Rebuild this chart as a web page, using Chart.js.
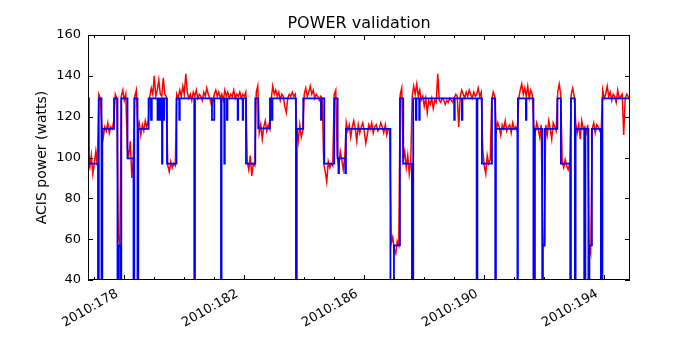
<!DOCTYPE html>
<html>
<head>
<meta charset="utf-8">
<script src="https://cdn.jsdelivr.net/npm/chart.js@4"></script>
<style>
  body { margin: 0; background: #fff; }
  #wrap { width: 700px; height: 350px; }
</style>
</head>
<body>
<div id="wrap"><canvas id="powerChart" width="700" height="350"></canvas></div>
<script>
// x axis: day of year 2010
const tickDays = [177, 178, 179, 180, 181, 182, 183, 184, 185, 186, 187, 188, 189, 190, 191, 192, 193, 194];
const labelDays = [178, 182, 186, 190, 194];
const yTicks = [40, 60, 80, 100, 120, 140, 160];

// model power (blue): day where the level changes, and the new level
const modelDays = [176.8, 176.82, 177.123, 177.15, 177.24, 177.267, 177.657, 177.773, 177.807, 177.873,
  177.9, 178.107, 178.307, 178.333, 178.44, 178.467, 178.81, 178.89, 178.917, 179.107,
  179.123, 179.183, 179.2, 179.257, 179.273, 179.313, 179.33, 179.423, 179.74, 179.833,
  179.85, 180.333, 180.357, 180.923, 181.0, 181.223, 181.243, 181.333, 181.35, 181.423,
  181.44, 181.78, 181.797, 181.947, 181.963, 182.057, 182.367, 182.467, 182.857, 182.923,
  182.94, 183.723, 183.75, 183.967, 184.557, 184.573, 184.667, 185.0, 185.113, 185.14,
  185.157, 185.367, 185.39, 186.873, 186.99, 187.19, 187.3, 187.59, 187.633, 187.723,
  187.74, 187.833, 187.85, 189.0, 189.017, 189.257, 189.273, 189.747, 189.773, 189.923,
  190.257, 190.367, 190.39, 191.107, 191.123, 191.39, 191.407, 191.64, 191.69, 191.933,
  191.957, 192.017, 192.44, 192.557, 192.867, 192.89, 193.023, 193.047, 193.333, 193.373,
  193.473, 193.507, 193.59, 193.89, 193.94, 194.86];
const modelPower = [129, 97, 0, 129, 0, 114, 129, 0, 57, 0,
  129, 99.6, 0, 129, 0, 114, 129, 118.4, 129, 118.4,
  129, 118.4, 129, 97, 129, 118.4, 129, 97, 129, 118.4,
  129, 0, 129, 118.4, 129, 0, 129, 97, 129, 118.4,
  129, 118.4, 129, 118.4, 129, 97, 129, 114.3, 129, 118.4,
  129, 0, 114, 129, 118.4, 129, 97, 129, 99.6, 92.3,
  99.6, 92.3, 114, 0, 57, 129, 97, 0, 129, 118.4,
  129, 118.4, 129, 118.4, 129, 118.4, 129, 0, 129, 97,
  129, 0, 114, 0, 129, 118.4, 129, 0, 114, 0,
  57, 114, 129, 97, 0, 129, 0, 114, 0, 114,
  0, 57, 114, 0, 129, 129];

// telemetry (red): one reading every 0.05 day from day 176.8
const telemStart = 176.8;
const telemStep = 0.05;
const telemPower = [
  98, 95, 101, 92, 97, 103, 96,
  131, 129,
  116, 110, 115, 113, 117, 112, 115, 114, 118,
  131, 129,
  62, 56,
  130, 133, 128, 131,
  104, 101, 108, 90, 99,
  130, 133,
  114, 117, 111, 116, 113, 118, 115,
  118, 130, 134, 131, 140, 130, 133, 138, 131, 130, 139, 131, 130,
  96, 93, 98, 95, 97, 96,
  131, 129, 133, 130, 135, 131, 141, 132, 129, 131,
  128, 132, 130, 133, 129, 131, 130, 128, 132, 130,
  134, 131, 129, 126, 127, 131, 133, 130, 132, 129,
  131, 128, 133, 130, 132, 129, 131, 130, 133, 129,
  131, 130, 132, 129, 131, 130, 132,
  98, 94, 101, 91, 97, 96,
  132, 135,
  112, 116, 109, 115, 118, 113, 116, 114,
  129, 135, 131, 133, 130, 132, 128, 131, 130, 125, 122, 129, 131, 130, 132, 130, 131,
  114, 108, 116, 110, 113,
  131, 134, 130, 132, 135, 131, 133, 129, 131, 130, 128, 130, 129,
  97, 93, 88, 98, 95, 97, 96,
  131, 133,
  101, 95, 103, 99, 94, 100,
  117, 113, 116, 110, 115, 118, 114, 108, 116, 112,
  115, 117, 113, 107, 111, 116, 114, 117, 112, 115,
  116, 113, 114, 117, 115, 112, 116, 111, 114, 113,
  58, 61, 55, 53, 59, 57,
  131, 134,
  99, 103, 95, 101, 92, 98,
  130, 135, 131, 136, 130, 133, 128, 130, 125, 129,
  122, 128, 126, 129, 124, 128, 127, 141, 128, 127,
  129, 128, 126, 128, 127, 129, 128, 127, 129, 131,
  130, 115, 130, 133, 131, 129, 132, 130, 133, 131,
  129, 132, 130,
  131, 134, 130, 132,
  104, 96, 92, 101, 97, 99,
  128, 132, 130,
  113, 117, 115, 111, 116, 114, 118, 113, 115, 116, 112, 117, 114, 115, 113,
  129, 133, 136, 131, 134, 130, 135, 129, 133, 131,
  116, 112, 117, 114, 110, 116,
  58, 57,
  116, 111, 118, 114, 109, 117, 115, 113,
  132, 136,
  131, 98, 95, 99, 96, 94, 97,
  131, 134, 130,
  117, 112, 116, 109, 118, 114,
  115, 112, 116,
  56, 53,
  114, 117, 112, 116, 115, 113, 114,
  133, 129, 131, 135, 130, 132, 128, 131, 130, 127,
  133, 129, 130, 131, 111, 129, 131, 130, 128
];

const titleText = "POWER validation";

const modelPoints = modelDays.map((d, i) => ({ x: d, y: modelPower[i] }));
const telemPoints = telemPower.map((v, i) => ({ x: telemStart + i * telemStep, y: v }));

const font = "'DejaVu Sans', sans-serif";
Chart.defaults.font.family = font;
Chart.defaults.color = "#000";

// matplotlib style frame with inward ticks on all four sides, title over the axes
const frameTicks = {
  id: "frameTicks",
  afterDatasetsDraw(chart) {
    const { ctx, chartArea: a, scales: { x, y } } = chart;
    ctx.save();
    ctx.strokeStyle = "#000";
    ctx.lineWidth = 1;
    ctx.beginPath();
    tickDays.forEach(d => {
      const px = Math.round(x.getPixelForValue(d)) + 0.5;
      const len = labelDays.includes(d) ? 5 : 3;
      ctx.moveTo(px, a.bottom);
      ctx.lineTo(px, a.bottom - len);
      ctx.moveTo(px, a.top);
      ctx.lineTo(px, a.top + len);
    });
    yTicks.forEach(v => {
      const py = Math.round(y.getPixelForValue(v)) + 0.5;
      ctx.moveTo(a.left, py);
      ctx.lineTo(a.left + 5, py);
      ctx.moveTo(a.right, py);
      ctx.lineTo(a.right - 5, py);
    });
    ctx.stroke();
    ctx.strokeRect(Math.round(a.left) + 0.5, Math.round(a.top) + 0.5,
      Math.round(a.right - a.left) - 1, Math.round(a.bottom - a.top) - 1);

    ctx.fillStyle = "#000";
    ctx.font = "16px " + font;
    ctx.textAlign = "center";
    ctx.textBaseline = "alphabetic";
    ctx.fillText(titleText, (a.left + a.right) / 2, a.top - 7);
    ctx.restore();
  }
};

new Chart(document.getElementById("powerChart").getContext("2d"), {
  type: "line",
  data: {
    datasets: [
      {
        label: "model",
        data: modelPoints,
        stepped: true,
        borderColor: "#0000ff",
        borderWidth: 1.8,
        pointRadius: 0,
        fill: false
      },
      {
        label: "telemetry",
        data: telemPoints,
        borderColor: "#ff0000",
        borderWidth: 1.5,
        pointRadius: 0,
        tension: 0,
        fill: false
      }
    ]
  },
  options: {
    responsive: false,
    animation: false,
    events: [],
    layout: { padding: { left: 0, right: 70, top: 35, bottom: 0 } },
    plugins: {
      legend: { display: false },
      tooltip: { enabled: false },
      title: { display: false }
    },
    scales: {
      x: {
        type: "linear",
        min: 176.79,
        max: 194.86,
        grid: { display: false, drawTicks: false },
        border: { display: false },
        afterBuildTicks: axis => { axis.ticks = tickDays.map(v => ({ value: v })); },
        afterFit: scale => { scale.height = 70; },
        ticks: {
          autoSkip: false,
          minRotation: 30,
          maxRotation: 30,
          padding: 2,
          font: { size: 13 },
          callback: v => labelDays.includes(v) ? "2010:" + v + "  " : ""
        }
      },
      y: {
        min: 40,
        max: 160,
        grid: { display: false, drawTicks: false },
        border: { display: false },
        afterFit: scale => { scale.width = 88; },
        ticks: { stepSize: 20, padding: 7, font: { size: 13 } },
        title: {
          display: true,
          text: "ACIS power (watts)",
          font: { size: 14 },
          padding: { top: 34, bottom: 0 }
        }
      }
    }
  },
  plugins: [frameTicks]
});
</script>
</body>
</html>
